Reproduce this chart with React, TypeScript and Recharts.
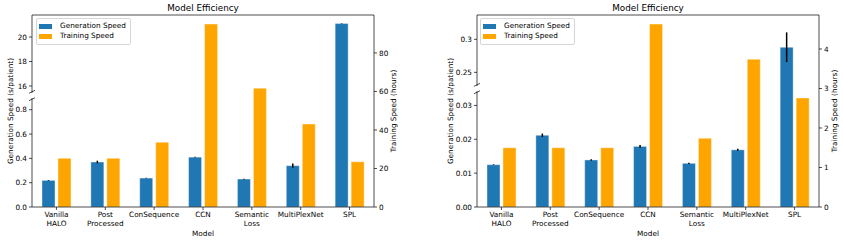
import { Bar, ComposedChart, ErrorBar, Legend, ReferenceLine, XAxis, YAxis } from "recharts";

const FONT = "'DejaVu Sans', sans-serif";
const FS = 7.3;
const BLUE = "#1f77b4";
const ORANGE = "#ffa500";
const INK = "#000";

const MODELS = ["Vanilla\nHALO", "Post\nProcessed", "ConSequence", "CCN", "Semantic\nLoss", "MultiPlexNet", "SPL"];

// left panel
const GEN_A = [0.219, 0.37, 0.238, 0.41, 0.23, 0.34, 21.1];
const GEN_A_ERR = [0.003, 0.011, 0.002, 0.003, 0.003, 0.018, 0.02];
const TRAIN_A = [25.3, 25.3, 33.6, 95.0, 61.7, 43.1, 23.5];
const GEN_A_TICKS = [0, 0.2, 0.4, 0.6, 0.8, 16, 18, 20];
const GEN_A_LABELS = ["0.0", "0.2", "0.4", "0.6", "0.8", "16", "18", "20"];
const TRAIN_A_TICKS = [0, 20, 40, 60, 80];

// right panel
const GEN_B = [0.0125, 0.0212, 0.0139, 0.0179, 0.0129, 0.0169, 0.288];
const GEN_B_ERR = [0.0001, 0.0005, 0.0002, 0.0004, 0.0002, 0.0003, 0.0225];
const TRAIN_B = [1.5, 1.5, 1.5, 4.63, 1.74, 3.74, 2.76];
const GEN_B_TICKS = [0, 0.01, 0.02, 0.03, 0.25, 0.3];
const GEN_B_LABELS = ["0.00", "0.01", "0.02", "0.03", "0.25", "0.3"];
const TRAIN_B_TICKS = [0, 1, 2, 3, 4];

// broken left axis: lower segment [0, lowMax], upper [highMin, highMax], break at fraction `at`
type Break = { lowMax: number; highMin: number; highMax: number; at: number };

const BREAK_A: Break = { lowMax: 0.917, highMin: 15.22, highMax: 21.8, at: 0.5807 };
const BREAK_B: Break = { lowMax: 0.035, highMin: 0.2255, highMax: 0.3368, at: 0.617 };

function toDisplay(v: number, b: Break) {
  if (v <= b.lowMax) return (v / b.lowMax) * b.at;
  return b.at + ((v - b.highMin) / (b.highMax - b.highMin)) * (1 - b.at);
}

const axisStyle = { stroke: INK, strokeWidth: 0.7 };
const tickStyle = { fontSize: FS, fill: INK, fontFamily: FONT };

function ModelTick({ x, y, payload }: any) {
  const lines = String(payload.value).split("\n");
  return (
    <text x={x} y={y} textAnchor="middle" fontSize={FS} fill={INK} fontFamily={FONT}>
      {lines.map((line, i) => (
        <tspan key={i} x={x} dy={i === 0 ? "0.71em" : 8.5}>
          {line}
        </tspan>
      ))}
    </text>
  );
}

function LegendBox({ payload }: any) {
  return (
    <div
      style={{
        display: "inline-block",
        border: "1px solid #d6d6d6",
        borderRadius: 2,
        background: "rgba(255,255,255,0.8)",
        padding: "2px 4px 2px 2px",
        fontFamily: FONT,
        fontSize: FS,
        color: INK,
        lineHeight: "10.3px",
      }}
    >
      {(payload || []).map((entry: any) => (
        <div key={entry.value} style={{ display: "flex", alignItems: "center", height: 10.3 }}>
          <span style={{ width: 12.5, height: 5, background: entry.color, marginRight: 8.5 }} />
          <span style={{ whiteSpace: "nowrap" }}>{entry.value}</span>
        </div>
      ))}
    </div>
  );
}

interface PanelProps {
  gen: number[];
  genErr: number[];
  train: number[];
  brk: Break;
  genTicks: number[];
  genLabels: string[];
  trainTicks: number[];
  trainTop: number;
  width: number;
  leftW: number;
  rightW: number;
  leftLabelGap: number;
  rightLabelGap: number;
  legendLeft: number;
}

function Panel(p: PanelProps) {
  const data = MODELS.map((model, i) => {
    const g = toDisplay(p.gen[i], p.brk);
    return {
      model,
      gen: g,
      err: [g - toDisplay(p.gen[i] - p.genErr[i], p.brk), toDisplay(p.gen[i] + p.genErr[i], p.brk) - g],
      train: p.train[i],
    };
  });
  const ticks = p.genTicks.map((t) => toDisplay(t, p.brk));
  const fmt = (v: number) => p.genLabels[ticks.findIndex((t) => Math.abs(t - v) < 1e-6)] ?? "";

  const titleLabel = ({ viewBox }: any) => (
    <text x={viewBox.x + viewBox.width / 2} y={viewBox.y - 4} textAnchor="middle" fontSize={8.8} fill={INK} fontFamily={FONT}>
      Model Efficiency
    </text>
  );
  const modelLabel = ({ viewBox }: any) => (
    <text x={viewBox.x + viewBox.width / 2} y={viewBox.y + 28.5} textAnchor="middle" fontSize={FS} fill={INK} fontFamily={FONT}>
      Model
    </text>
  );
  const genLabel = ({ viewBox }: any) => {
    const spine = viewBox.x + viewBox.width;
    const cx = spine - p.leftLabelGap;
    const cy = viewBox.y + viewBox.height / 2;
    const by = viewBox.y + viewBox.height * (1 - p.brk.at);
    return (
      <g>
        <text x={cx} y={cy} transform={`rotate(-90 ${cx} ${cy})`} textAnchor="middle" dominantBaseline="central" fontSize={FS} fill={INK} fontFamily={FONT}>
          Generation Speed (s/patient)
        </text>
        <rect x={spine - 1.5} y={by - 2.6} width={3} height={5.2} fill="#fff" />
        <line x1={spine - 3} y1={by - 2.2} x2={spine + 3} y2={by - 5.2} stroke={INK} strokeWidth={0.7} />
        <line x1={spine - 3} y1={by + 5.2} x2={spine + 3} y2={by + 2.2} stroke={INK} strokeWidth={0.7} />
      </g>
    );
  };
  const trainLabel = ({ viewBox }: any) => {
    const cx = viewBox.x + p.rightLabelGap;
    const cy = viewBox.y + viewBox.height / 2;
    return (
      <text x={cx} y={cy} transform={`rotate(-90 ${cx} ${cy})`} textAnchor="middle" dominantBaseline="central" fontSize={FS} fill={INK} fontFamily={FONT}>
        Training Speed (hours)
      </text>
    );
  };

  return (
    <ComposedChart
      width={p.width}
      height={240}
      data={data}
      margin={{ top: 15, right: 0, bottom: 0, left: 0 }}
      barSize={13}
      barGap={3}
    >
      <XAxis
        dataKey="model"
        height={33}
        interval={0}
        tick={<ModelTick />}
        tickSize={3}
        tickMargin={2}
        axisLine={axisStyle}
        tickLine={axisStyle}
        label={modelLabel}
      />
      <YAxis
        yAxisId="gen"
        width={p.leftW}
        domain={[0, 1]}
        allowDataOverflow
        ticks={ticks}
        interval={0}
        tickFormatter={fmt}
        tick={tickStyle}
        tickSize={3}
        tickMargin={2}
        axisLine={axisStyle}
        tickLine={axisStyle}
        label={genLabel}
      />
      <YAxis
        yAxisId="train"
        orientation="right"
        width={p.rightW}
        domain={[0, p.trainTop]}
        allowDataOverflow
        ticks={p.trainTicks}
        interval={0}
        tick={tickStyle}
        tickSize={3}
        tickMargin={2}
        axisLine={axisStyle}
        tickLine={axisStyle}
        label={trainLabel}
      />
      <Legend
        layout="vertical"
        align="center"
        verticalAlign="middle"
        content={<LegendBox />}
        wrapperStyle={{ top: 18, left: p.legendLeft, width: "auto", height: "auto" }}
      />
      <Bar
        yAxisId="gen"
        dataKey="gen"
        name="Generation Speed"
        fill={BLUE}
        stroke="#ffffff"
        strokeOpacity={0.5}
        strokeWidth={0.8}
        isAnimationActive={false}
      >
        <ErrorBar dataKey="err" width={0} stroke={INK} strokeWidth={1.5} isAnimationActive={false} />
      </Bar>
      <Bar
        yAxisId="train"
        dataKey="train"
        name="Training Speed"
        fill={ORANGE}
        stroke="#ffffff"
        strokeOpacity={0.5}
        strokeWidth={0.8}
        isAnimationActive={false}
      />
      {/* top spine, carrying the title */}
      <ReferenceLine yAxisId="gen" y={1} stroke={INK} strokeWidth={0.7} label={titleLabel} />
    </ComposedChart>
  );
}

export default function App() {
  return (
    <div style={{ position: "absolute", left: 0, top: 0, width: 843, height: 240, background: "#fff" }}>
      <div style={{ position: "absolute", left: 0, top: 0 }}>
        <Panel
          gen={GEN_A}
          genErr={GEN_A_ERR}
          train={TRAIN_A}
          brk={BREAK_A}
          genTicks={GEN_A_TICKS}
          genLabels={GEN_A_LABELS}
          trainTicks={TRAIN_A_TICKS}
          trainTop={99.7}
          width={421}
          leftW={32}
          rightW={47}
          leftLabelGap={22}
          rightLabelGap={19}
          legendLeft={36}
        />
      </div>
      <div style={{ position: "absolute", left: 421, top: 0 }}>
        <Panel
          gen={GEN_B}
          genErr={GEN_B_ERR}
          train={TRAIN_B}
          brk={BREAK_B}
          genTicks={GEN_B_TICKS}
          genLabels={GEN_B_LABELS}
          trainTicks={TRAIN_B_TICKS}
          trainTop={4.86}
          width={422}
          leftW={56}
          rightW={24}
          leftLabelGap={27}
          rightLabelGap={15}
          legendLeft={59}
        />
      </div>
    </div>
  );
}
